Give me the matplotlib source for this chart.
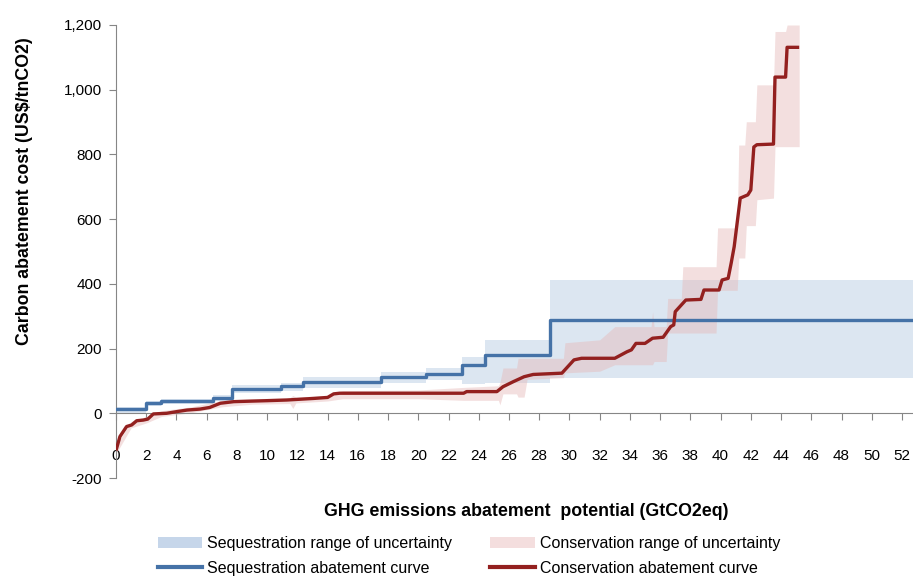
import numpy as np
import matplotlib
matplotlib.use("Agg")
import matplotlib.pyplot as plt
from matplotlib.patches import Patch
from matplotlib.lines import Line2D
from matplotlib.ticker import FuncFormatter

plt.rcParams['font.family'] = ['Liberation Sans', 'DejaVu Sans']

# sequestration curve: step starts (GtCO2eq) and cost levels (US$/tCO2)
seq_x = [0, 2.0, 3.0, 6.45, 7.65, 10.9, 12.4, 17.5, 20.5, 22.9, 24.4, 28.7, 52.7]
seq_cost = [12, 31, 38, 46, 75, 84, 96, 111, 121, 149, 180, 287, 287]
seq_low = [2, 24, 30, 38, 62, 70, 77, 93, 103, 90, 94, 110, 110]
seq_high = [20, 38, 45, 55, 87, 95, 113, 129, 139, 173, 227, 412, 412]

# conservation curve
cons_x = [0, 0.26, 0.7, 1.04, 1.37, 1.8, 2.1, 2.47, 3.35, 4.0, 4.7, 5.56, 6.2, 6.9,
          7.8, 10.0, 11.3, 13.1, 14.0, 14.4, 14.8, 23.0, 23.2, 25.2, 25.6, 26.3,
          27.0, 27.6, 29.5, 30.3, 30.8, 33.0, 33.8, 34.1, 34.4, 35.0, 35.5, 36.2,
          36.7, 36.9, 37.0, 37.7, 38.7, 38.9, 39.9, 40.1, 40.5, 40.7, 40.9, 41.3,
          41.8, 42.0, 42.2, 42.4, 43.5, 43.6, 44.3, 44.4, 45.2]
cons_cost = [-115, -72, -41, -36, -23, -21, -18, -2, 0, 5, 10, 13, 18, 31,
             36, 39, 41, 46, 49, 60, 62, 62, 67, 67, 82, 98,
             113, 120, 124, 165, 170, 170, 190, 196, 216, 216, 232, 235,
             268, 273, 314, 350, 352, 381, 381, 412, 417, 464, 515, 665,
             675, 690, 823, 830, 832, 1039, 1039, 1131, 1131]

cons_band_x = [0, 1, 2, 3, 5, 7, 9, 11.5, 11.7, 11.9, 14, 15, 20, 23, 25.3,
               25.4, 25.6, 26.5, 26.6, 27.0, 27.2, 29.6, 29.7, 32.0, 33.0,
               35.4, 35.5, 35.6, 36.4, 36.5, 37.4, 37.5, 39.7, 39.8, 41.1,
               41.2, 41.6, 41.7, 42.3, 42.4, 43.5, 43.6, 44.3, 44.4, 45.2]
cons_band_low = [-125, -45, -30, -10, 2, 20, 28, 30, 15, 32, 38, 45, 45, 40, 40,
                 26, 60, 60, 50, 50, 105, 110, 125, 130, 150,
                 150, 150, 160, 160, 248, 248, 248, 248, 380, 380,
                 480, 480, 580, 580, 660, 665, 824, 824, 824, 824]
cons_band_high = [-100, -25, -10, 8, 20, 40, 45, 48, 55, 50, 55, 70, 72, 80, 85,
                  95, 140, 140, 170, 170, 170, 170, 218, 227, 268,
                  268, 314, 268, 268, 355, 355, 453, 453, 573, 573,
                  829, 829, 901, 901, 1015, 1015, 1180, 1180, 1200, 1200]

x_ticks = list(range(0, 54, 2))
y_ticks = list(range(-200, 1400, 200))

blue = '#4572A7'
red = '#93201F'
blue_band = '#DCE6F1'
red_band = '#E6B9B8'

fig = plt.figure(figsize=(9.13, 5.77), dpi=100)
ax = fig.add_axes([116 / 913, 1 - 478 / 577, 1 - 116 / 913, (478 - 25) / 577])

ax.fill_between(seq_x, seq_low, seq_high, step='post', color=blue_band, lw=0, zorder=1)
ax.fill_between(cons_band_x, cons_band_low, cons_band_high, color=red_band, alpha=0.45, lw=0, zorder=2)
ax.step(seq_x, seq_cost, where='post', color=blue, lw=2.4, zorder=3)
ax.plot(cons_x, cons_cost, color=red, lw=2.4, zorder=4, solid_capstyle='butt')

ax.set_xlim(0, 52.73)
ax.set_ylim(-200, 1200)
ax.set_xticks(x_ticks)
ax.set_yticks(y_ticks)
ax.yaxis.set_major_formatter(FuncFormatter(lambda v, p: f'{int(v):,}'))

for s in ['top', 'right']:
    ax.spines[s].set_visible(False)
ax.spines['bottom'].set_position(('data', 0))
ax.spines['bottom'].set_color('#868686')
ax.spines['left'].set_color('#868686')
ax.tick_params(axis='x', direction='out', length=5, color='#868686', pad=21, labelsize=11)
ax.tick_params(axis='y', direction='out', length=5, color='#868686', pad=5, labelsize=11)

ax.set_ylabel('Carbon abatement cost (US$/tnCO2)', fontsize=12.8, fontweight='bold')
ax.yaxis.set_label_coords(-0.104, (478 - 191) / 453)
fig.text(526 / 913, 1 - 511 / 577, 'GHG emissions abatement  potential (GtCO2eq)',
         fontsize=12.8, fontweight='bold', ha='center', va='center')

handles = [
    Patch(facecolor='#C6D6EA', edgecolor='none'),
    Line2D([], [], color=blue, lw=3),
    Patch(facecolor='#F4DEDE', edgecolor='none'),
    Line2D([], [], color=red, lw=3),
]
labels = ['Sequestration range of uncertainty', 'Sequestration abatement curve',
          'Conservation range of uncertainty', 'Conservation abatement curve']
fig.legend(handles, labels, ncol=2, loc='center', bbox_to_anchor=(469 / 913, 1 - 556 / 577),
           frameon=False, fontsize=11.5, handlelength=2.8, handletextpad=0.3,
           columnspacing=2.4, labelspacing=0.6)

plt.savefig('out.png', dpi=100)
